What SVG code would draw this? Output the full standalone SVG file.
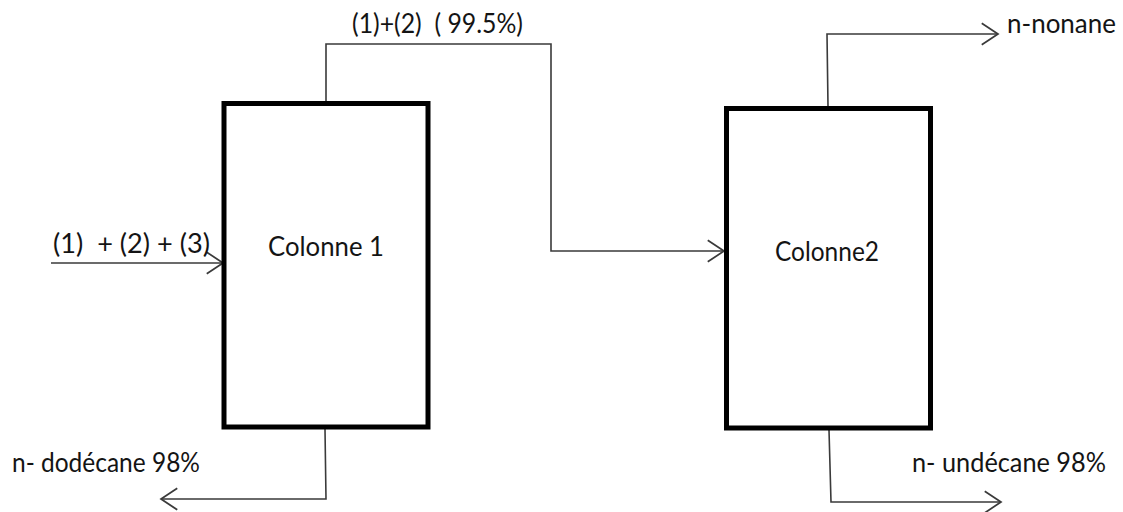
<svg xmlns="http://www.w3.org/2000/svg" width="1123" height="512" viewBox="0 0 1123 512">
  <style>
    .col { fill: #ffffff; stroke: #000000; stroke-width: 5; }
    .flow { fill: none; stroke: #3a3a3a; stroke-width: 1.6; }
    .lbl { font-family: Lato, "Open Sans", "Liberation Sans", sans-serif; font-size: 26px; fill: #141414; white-space: pre; }
  </style>
  <defs>
    <marker id="open" markerUnits="userSpaceOnUse" markerWidth="24" markerHeight="26" viewBox="-18 -12 20 24" refX="0" refY="0" orient="auto">
      <path d="M-15,-10 L0,0 L-15,10" fill="none" stroke="#3a3a3a" stroke-width="1.6"/>
    </marker>
  </defs>

  <rect width="1123" height="512" fill="#ffffff"/>

  <!-- streams between the columns -->
  <g id="connectors">
    <!-- feed into column 1 -->
    <line class="flow" x1="51" y1="263" x2="223" y2="263" marker-end="url(#open)"/>
    <!-- column 1 overhead to column 2 -->
    <polyline class="flow" points="326,102 326,44 551,44 551,251 724,251" marker-end="url(#open)"/>
    <!-- column 1 bottoms -->
    <polyline class="flow" points="325,429 326,499 161,499" marker-end="url(#open)"/>
    <!-- column 2 overhead -->
    <polyline class="flow" points="828,106 827,34 998,34" marker-end="url(#open)"/>
    <!-- column 2 bottoms -->
    <polyline class="flow" points="829,430 831,502 1001,502" marker-end="url(#open)"/>
  </g>

  <g id="colonne1">
    <rect class="col" x="224" y="103.5" width="204" height="323.5"/>
    <text class="lbl" x="268" y="256" textLength="116" lengthAdjust="spacingAndGlyphs">Colonne 1</text>
  </g>

  <g id="colonne2">
    <rect class="col" x="726.5" y="108.5" width="204" height="319.5"/>
    <text class="lbl" x="775" y="261" textLength="104" lengthAdjust="spacingAndGlyphs">Colonne2</text>
  </g>

  <g id="labels">
    <text class="lbl" x="53" y="253" textLength="157" lengthAdjust="spacingAndGlyphs">(1)  + (2) + (3)</text>
    <text class="lbl" x="352" y="33" textLength="171" lengthAdjust="spacingAndGlyphs">(1)+(2)  ( 99.5%)</text>
    <text class="lbl" x="1007" y="33" textLength="109" lengthAdjust="spacingAndGlyphs">n-nonane</text>
    <text class="lbl" x="12" y="472" textLength="188" lengthAdjust="spacingAndGlyphs">n- dodécane 98%</text>
    <text class="lbl" x="912" y="472" textLength="194" lengthAdjust="spacingAndGlyphs">n- undécane 98%</text>
  </g>
</svg>
